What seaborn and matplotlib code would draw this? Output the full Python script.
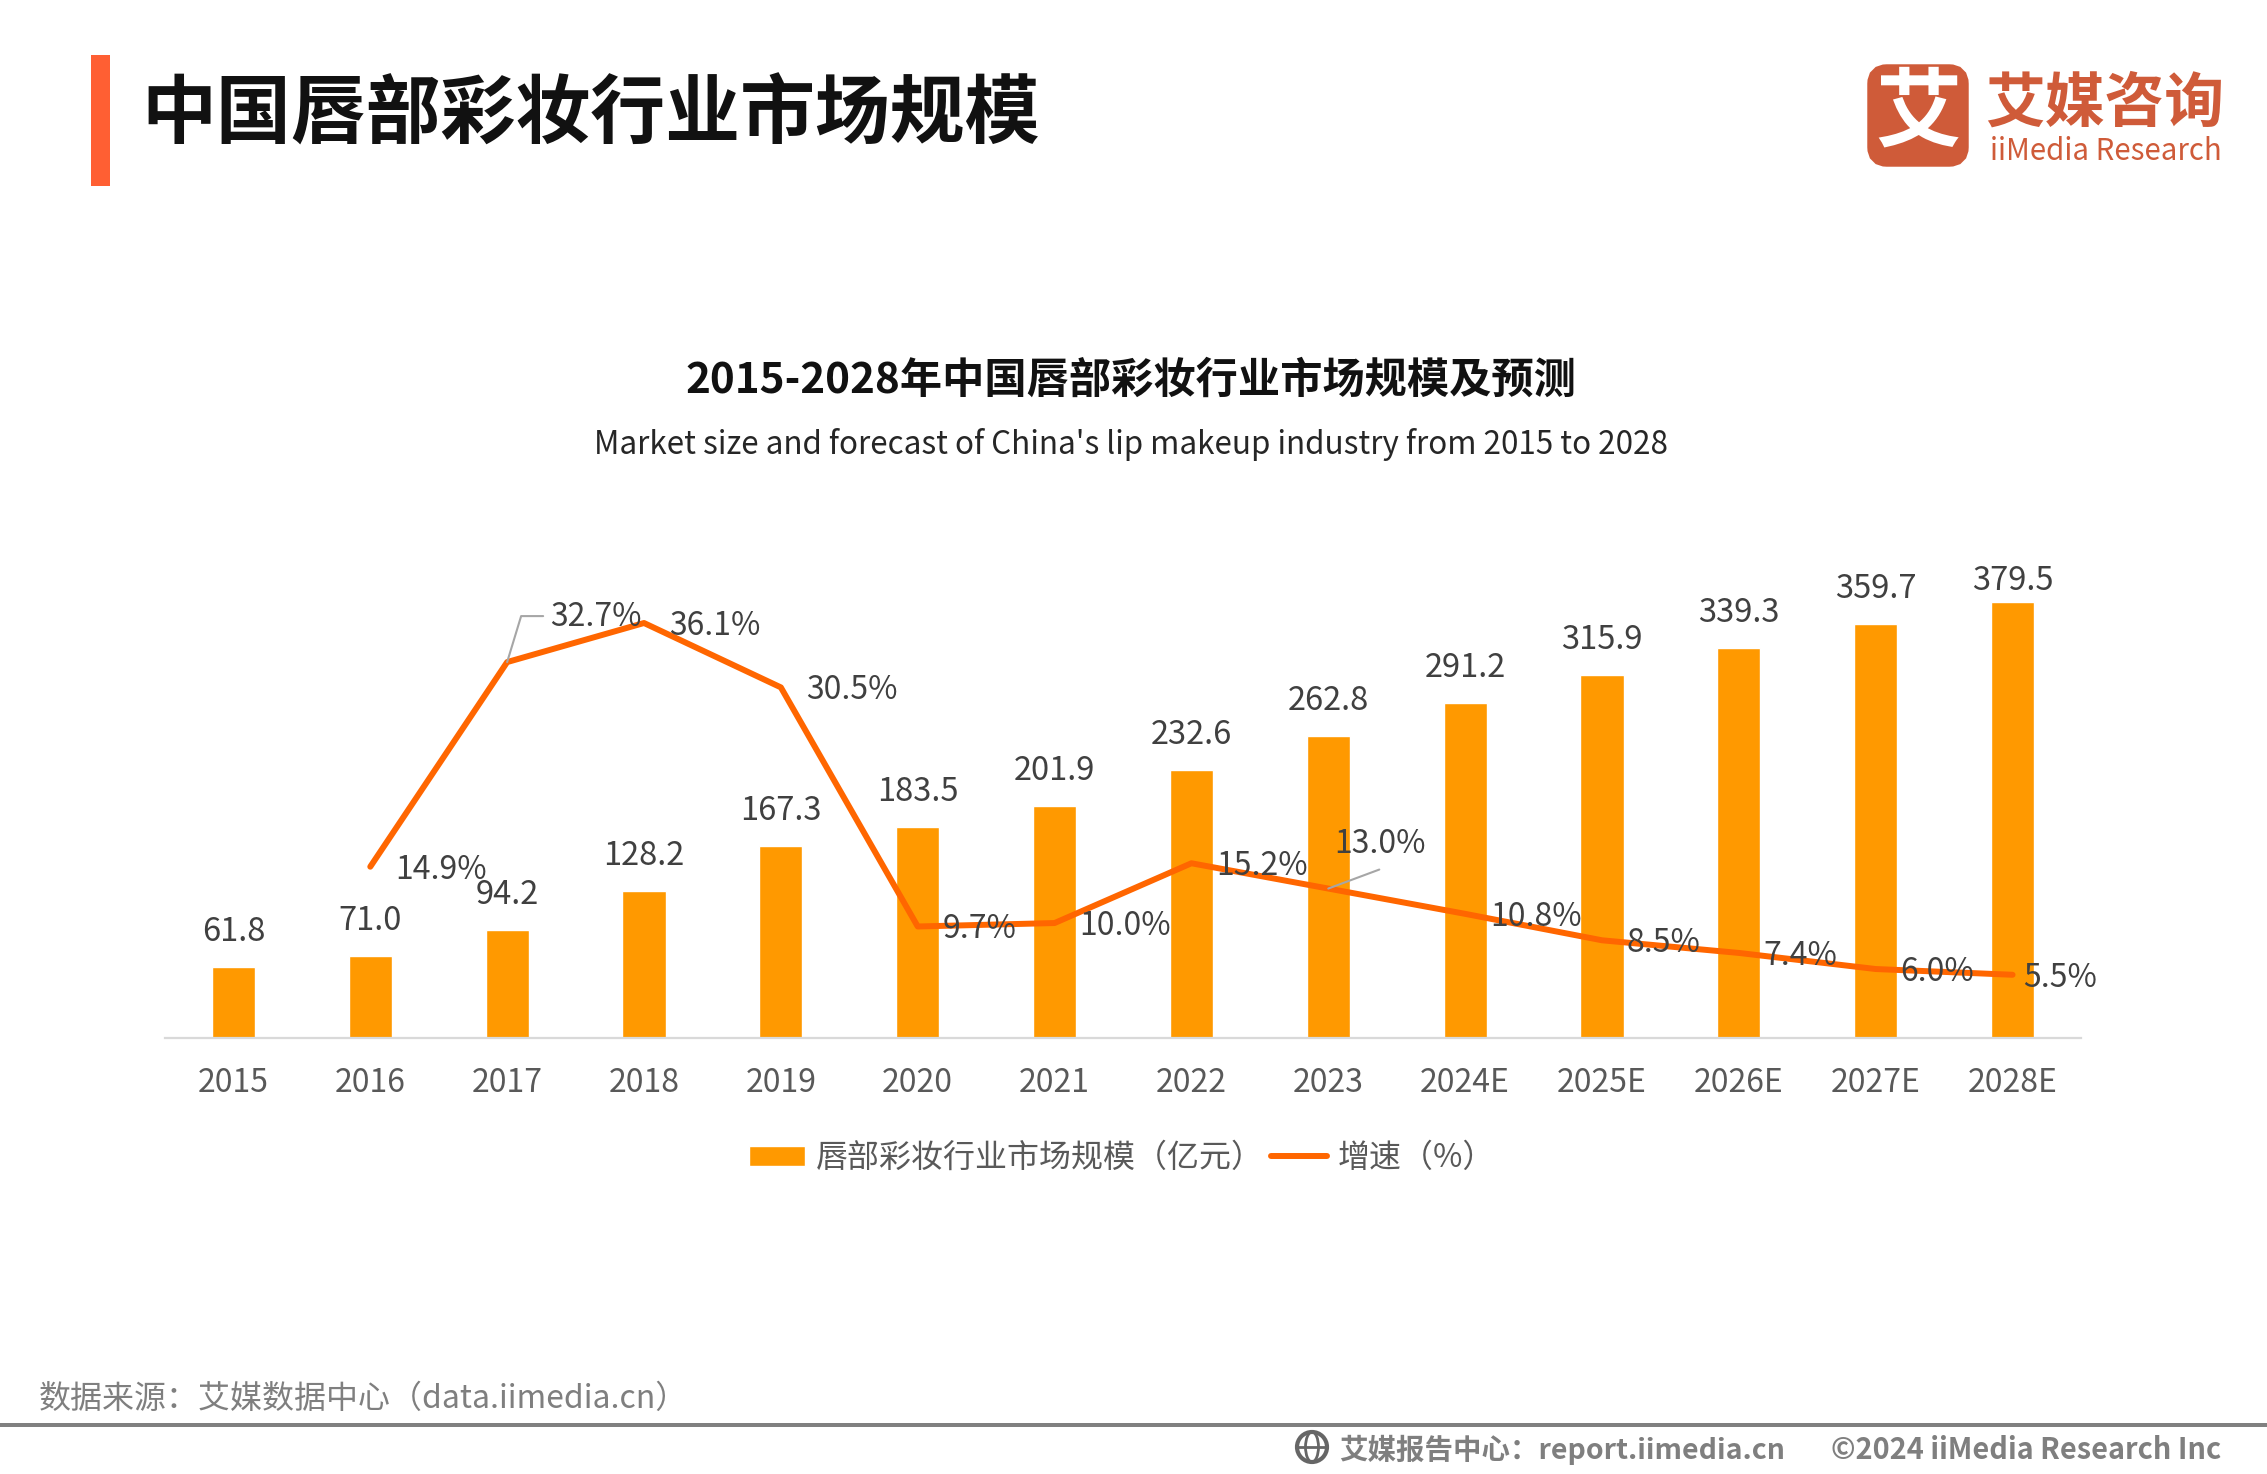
import numpy as np
import pandas as pd
import matplotlib
matplotlib.use('Agg')
import matplotlib.pyplot as plt
from matplotlib.patches import FancyBboxPatch, Circle, Ellipse, Rectangle
from matplotlib.transforms import IdentityTransform
import seaborn as sns

years = ['2015', '2016', '2017', '2018', '2019', '2020', '2021', '2022', '2023',
         '2024E', '2025E', '2026E', '2027E', '2028E']
market_size = [61.8, 71.0, 94.2, 128.2, 167.3, 183.5, 201.9, 232.6, 262.8,
               291.2, 315.9, 339.3, 359.7, 379.5]
growth = [np.nan, 14.9, 32.7, 36.1, 30.5, 9.7, 10.0, 15.2, 13.0, 10.8, 8.5, 7.4, 6.0, 5.5]

# label offsets, in pixels
size_dy = [19, 19, 19, 19, 19, 19, 19, 19, 19, 19, 19, 19, 19, 5]
growth_dx = [0, 25, 43, 25, 25, 25, 25, 25, 6, 25, 25, 25, 25, 11]
growth_dy = [0, -3, 45, -3, -3, -3, -3, -3, 45, -3, -3, -3, -3, -3]

BAR_COLOR = '#FF9900'
LINE_COLOR = '#FF6600'
LOGO_COLOR = '#CF5B39'

sns.set_theme(style='white')
plt.rcParams['font.family'] = ['Noto Sans CJK SC', 'DejaVu Sans']

W, H = 2267, 1474
fig = plt.figure(figsize=(W / 100, H / 100), dpi=100)

# chart area, baseline at y=1038
ax = fig.add_axes([165 / W, 1 - 1038 / H, 1916 / W, 538 / H])
df = pd.DataFrame({'year': years, 'size': market_size, 'growth': growth})
sns.barplot(data=df, x='year', y='size', color=BAR_COLOR, saturation=1, width=0.315,
            ax=ax, label='唇部彩妆行业市场规模（亿元）')
ax.set_xlim(-0.5, 13.5)
ax.set_ylim(0, 467.8)
ax.set_xlabel('')
ax.set_ylabel('')
ax.set_yticks([])
ax.tick_params(axis='x', length=0, pad=21, labelsize=23, labelcolor='#595959')
sns.despine(ax=ax, left=True)
ax.spines['bottom'].set_color('#D9D9D9')
ax.spines['bottom'].set_linewidth(1.6)

for i, v in enumerate(market_size):
    ax.annotate(f'{v:.1f}', (i, v), xytext=(0, size_dy[i]), textcoords='offset pixels',
                ha='center', va='bottom', fontsize=23.5, color='#404040')

ax2 = ax.twinx()
sns.lineplot(data=df, x='year', y='growth', color=LINE_COLOR, linewidth=4.3, sort=False,
             errorbar=None, ax=ax2, label='增速（%）', legend=False,
             solid_capstyle='round', solid_joinstyle='round')
ax2.set_ylim(0, 46.8)
ax2.set_xlim(-0.5, 13.5)
ax2.set_ylabel('')
ax2.set_yticks([])
sns.despine(ax=ax2, left=True, right=True)
ax2.spines['bottom'].set_visible(False)

for i, v in enumerate(growth):
    if np.isnan(v):
        continue
    ax2.annotate(f'{v:.1f}%', (i, v), xytext=(growth_dx[i], growth_dy[i]),
                 textcoords='offset pixels', ha='left', va='center', fontsize=23,
                 color='#404040')

# leader lines of the two moved labels
p = ax2.transData.transform((2, growth[2]))
ax2.plot(p[0] + np.array([0, 14, 36]), p[1] + np.array([0, 46, 46]), color='#A6A6A6',
         lw=1.5, transform=IdentityTransform())
p = ax2.transData.transform((8, growth[8]))
ax2.plot(p[0] + np.array([0, 51]), p[1] + np.array([0, 19]), color='#A6A6A6',
         lw=1.5, transform=IdentityTransform())

h1, l1 = ax.get_legend_handles_labels()
h2, l2 = ax2.get_legend_handles_labels()
if ax.get_legend() is not None:
    ax.get_legend().remove()
leg = ax2.legend(h1 + h2[:1], l1 + l2[:1], loc='center', ncol=2, frameon=False,
                 bbox_to_anchor=(1122 / W, 1 - 1158 / H), bbox_transform=fig.transFigure,
                 fontsize=23, handlelength=1.75, handleheight=0.6, handletextpad=0.35,
                 columnspacing=0.22, labelcolor='#595959')

# page furniture drawn in pixel coordinates
bg = fig.add_axes([0, 0, 1, 1], zorder=-1)
bg.set_xlim(0, W)
bg.set_ylim(H, 0)
bg.axis('off')

bg.add_patch(Rectangle((91, 55), 19, 131, color='#FF5F33', lw=0))
bg.text(141, 116, '中国唇部彩妆行业市场规模', fontsize=53.95, fontweight='bold', color='#111111',
        ha='left', va='center')
bg.text(1131, 381, '2015-2028年中国唇部彩妆行业市场规模及预测', fontsize=30.4, fontweight='bold',
        color='#111111', ha='center', va='center')
bg.text(1131, 444, "Market size and forecast of China's lip makeup industry from 2015 to 2028",
        fontsize=22.6, color='#262626', ha='center', va='center')

# logo
bg.add_patch(FancyBboxPatch((1877, 74), 82, 83, boxstyle='round,pad=0,rounding_size=10',
                            mutation_aspect=1, fc=LOGO_COLOR, ec=LOGO_COLOR, lw=14))
bg.text(1918, 114, '艾', fontsize=62, fontweight='bold', color='white', ha='center', va='center')
bg.text(1985, 105, '艾媒咨询', fontsize=43, fontweight='bold', color=LOGO_COLOR, ha='left', va='center')
bg.text(1990, 151, 'iiMedia Research', fontsize=21.2, color=LOGO_COLOR, ha='left', va='center')

# footer
bg.text(39, 1399, '数据来源：艾媒数据中心（data.iimedia.cn）', fontsize=23, color='#7F7F7F',
        ha='left', va='center')
bg.add_patch(Rectangle((0, 1423), W, 4, color='#808080', lw=0))
bg.text(1339, 1450, '艾媒报告中心：report.iimedia.cn', fontsize=20.5, fontweight='bold',
        color='#7F7F7F', ha='left', va='center')
bg.text(2221, 1450, '©2024 iiMedia Research Inc', fontsize=20.8, fontweight='bold',
        color='#7F7F7F', ha='right', va='center')
bg.add_patch(Circle((1312, 1447), 15, fc='none', ec='#666666', lw=3))
bg.add_patch(Ellipse((1312, 1447), 13, 30, fc='none', ec='#666666', lw=2))
bg.plot([1297, 1327], [1447, 1447], color='#666666', lw=2)

fig.savefig('out.png', dpi=100)
